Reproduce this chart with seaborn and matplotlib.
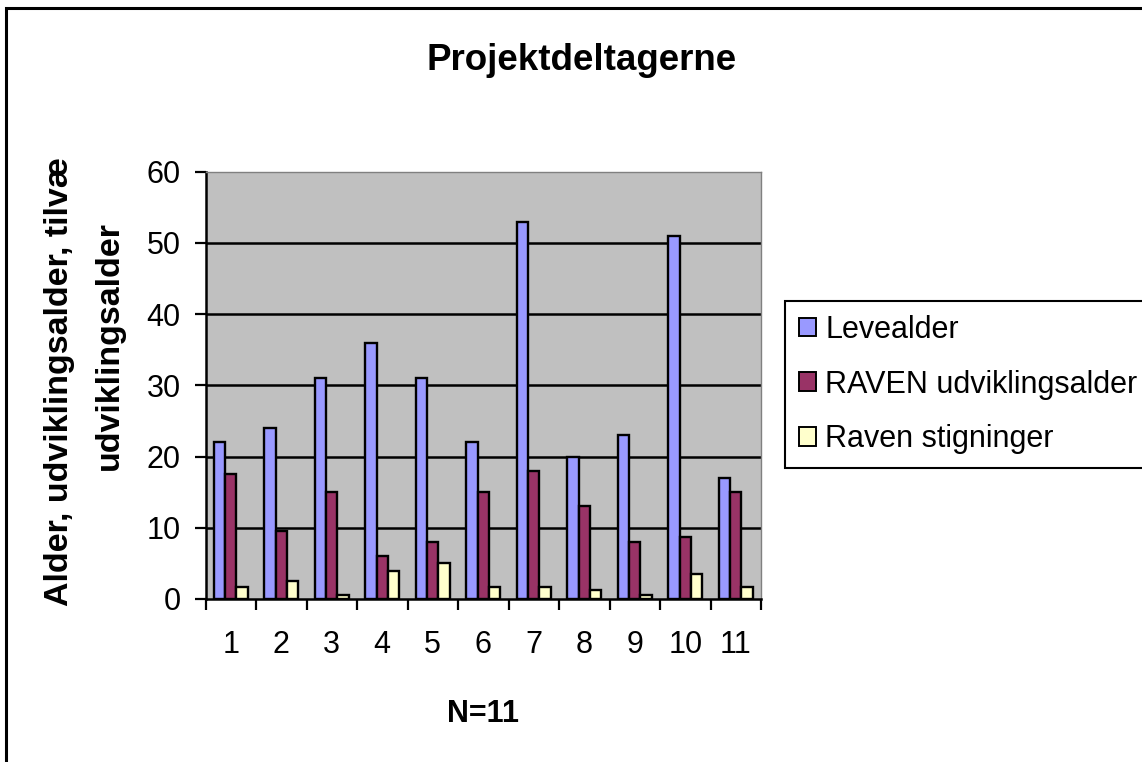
import matplotlib
matplotlib.use("Agg")
import matplotlib.pyplot as plt
import matplotlib.patches as mpatches
import seaborn as sns
import pandas as pd
import numpy as np

# ---- data ----
categories = ["1", "2", "3", "4", "5", "6", "7", "8", "9", "10", "11"]
levealder = [22, 24, 31, 36, 31, 22, 53, 20, 23, 51, 17]
raven_udv = [17.6, 9.5, 15, 6, 8, 15, 18, 13, 8, 8.75, 15]
raven_stig = [1.75, 2.5, 0.6, 4, 5, 1.75, 1.75, 1.3, 0.6, 3.5, 1.75]
series_names = ["Levealder", "RAVEN udviklingsalder", "Raven stigninger"]
colors = ["#9999FF", "#993366", "#FFFFCC"]
y_ticks = [0, 10, 20, 30, 40, 50, 60]

title = "Projektdeltagerne"
xlabel = "N=11"
ylabel_line1 = "Alder, udviklingsalder, tilvæ"
ylabel_line2 = "udviklingsalder"

df = pd.DataFrame({
    "cat": categories * 3,
    "value": levealder + raven_udv + raven_stig,
    "series": [series_names[0]] * 11 + [series_names[1]] * 11 + [series_names[2]] * 11,
})

sns.set_style("white")
plt.rcParams["font.family"] = ["Liberation Sans", "DejaVu Sans"]
plt.rcParams["text.color"] = "black"
plt.rcParams["axes.labelcolor"] = "black"
plt.rcParams["xtick.color"] = "black"
plt.rcParams["ytick.color"] = "black"
plt.rcParams["xtick.labelcolor"] = "black"
plt.rcParams["ytick.labelcolor"] = "black"

W, H = 1142, 762
fig = plt.figure(figsize=(W / 100, H / 100), dpi=100)
fig.patch.set_facecolor("white")

ax_l, ax_r, ax_t, ax_b = 205.5, 761, 171.7, 599
ax = fig.add_axes([ax_l / W, 1 - ax_b / H, (ax_r - ax_l) / W, (ax_b - ax_t) / H])
ax.set_facecolor("#C0C0C0")

sns.barplot(data=df, x="cat", y="value", hue="series", order=categories,
            hue_order=series_names, palette=colors, width=0.667,
            edgecolor="black", linewidth=1.7, saturation=1, ax=ax, legend=True)

handles, labels = ax.get_legend_handles_labels()
ax.get_legend().remove()

ax.set_xlim(-0.5, len(categories) - 0.5)
ax.set_ylim(0, 60)
ax.set_yticks(y_ticks)
ax.set_yticklabels([str(v) for v in y_ticks])
ax.set_axisbelow(True)
ax.yaxis.grid(True, color="black", linewidth=1.8)
ax.get_ygridlines()[-1].set_visible(False)
ax.get_ygridlines()[0].set_visible(False)

for s in ["top", "right"]:
    ax.spines[s].set_color("#808080")
    ax.spines[s].set_linewidth(1.0)
for s in ["left", "bottom"]:
    ax.spines[s].set_color("black")
    ax.spines[s].set_linewidth(1.8)

ax.tick_params(axis="y", direction="out", length=8, width=1.6, color="black",
               labelsize=22, pad=10, left=True)
ax.tick_params(axis="x", which="major", length=0, labelsize=22, pad=22)
ax.set_xticks(np.arange(-0.5, len(categories), 1.0), minor=True)
ax.tick_params(axis="x", which="minor", direction="out", length=8, width=1.6,
               color="black", bottom=True)
ax.set_xlabel("")
ax.set_ylabel("")

# titles and labels
fig.text(581.5 / W, 1 - 70 / H, title, ha="center", va="baseline",
         fontsize=26.5, fontweight="bold")
fig.text(483 / W, 1 - 722 / H, xlabel, ha="center", va="baseline",
         fontsize=22, fontweight="bold")
fig.text(68 / W, 1 - 381 / H, ylabel_line1, rotation=90, rotation_mode="anchor",
         ha="center", va="baseline", fontsize=24.5, fontweight="bold")
fig.text(118 / W, 1 - 346 / H, ylabel_line2, rotation=90, rotation_mode="anchor",
         ha="center", va="baseline", fontsize=24.5, fontweight="bold")

# legend
for h in handles:
    h.set_linewidth(1.4)
leg = ax.legend(handles, labels, loc="upper left",
                bbox_to_anchor=(785 / W, 1 - 301 / H), bbox_transform=fig.transFigure,
                borderaxespad=0, fontsize=22, frameon=True, fancybox=False,
                edgecolor="black", framealpha=1, handlelength=0.56, handleheight=0.56,
                handletextpad=0.3, labelspacing=0.81, borderpad=0.45)
leg.get_frame().set_linewidth(1.5)

# figure border (extends beyond right/bottom edges)
border = mpatches.Rectangle((5.5 / W, -0.2), 1.4, 1 - 7.5 / H + 0.2,
                            transform=fig.transFigure, fill=False,
                            edgecolor="black", linewidth=2.2, clip_on=False)
fig.patches.append(border)

fig.savefig("out.png", dpi=100)
